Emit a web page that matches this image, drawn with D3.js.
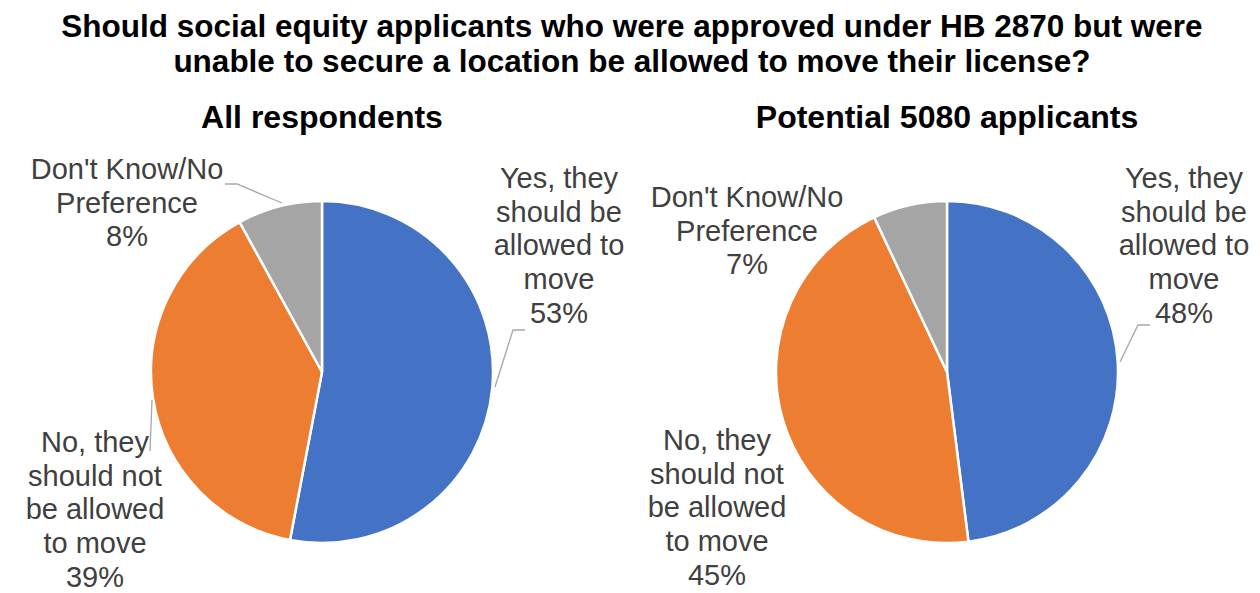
<!DOCTYPE html>
<html>
<head>
<meta charset="utf-8">
<script src="https://cdn.jsdelivr.net/npm/d3@7"></script>
<style>
  body { margin: 0; background: #fff; }
  svg { display: block; }
</style>
</head>
<body>
<svg width="1260" height="593"></svg>
<script>
// Data
const titleLines = [
    "Should social equity applicants who were approved under HB 2870 but were",
    "unable to secure a location be allowed to move their license?"
];
const categories = ["Yes, they should be allowed to move", "No, they should not be allowed to move", "Don't Know/No Preference"];
const pieTitles = ["All respondents", "Potential 5080 applicants"];
const allValues = [53, 39, 8];
const applicantValues = [48, 45, 7];
const labelLines = [
    ["Yes, they", "should be", "allowed to", "move"],
    ["No, they", "should not", "be allowed", "to move"],
    ["Don't Know/No", "Preference"]
];
const colors = ["#4472C4", "#ED7D31", "#A5A5A5"];

const svg = d3.select("svg");
const radius = 171;
const lineH = 33.7;

// Title
svg.append("g").selectAll("text")
    .data(titleLines)
    .join("text")
    .attr("x", 632)
    .attr("y", (d, i) => 37 + i * 35)
    .attr("text-anchor", "middle")
    .attr("font-family", "Liberation Sans, Arial, sans-serif")
    .attr("font-weight", "bold")
    .attr("font-size", "31.5px")
    .attr("fill", "#000")
    .text(d => d);

// layout of each pie: center and label anchors (relative to center)
const layouts = [
    {
        cx: 322, cy: 372,
        labels: [{ dx: 237, dy: -184 }, { dx: -227, dy: 80 }, { dx: -195, dy: -193 }],
        leaders: [
            [[173, 15], [191, -42], [203, -42]],
            [[-170, 28], [-172, 79]],
            [[-40, -169], [-85, -188], [-97, -188]]
        ]
    },
    {
        cx: 947, cy: 372,
        labels: [{ dx: 237, dy: -184 }, { dx: -230, dy: 78 }, { dx: -200, dy: -165 }],
        leaders: [
            [[173, -10], [191, -47], [203, -47]],
            null,
            null
        ]
    }
];

const pie = d3.pie().sort(null).value(d => d);
const arc = d3.arc().innerRadius(0).outerRadius(radius);

[allValues, applicantValues].forEach((values, p) => {
    const lay = layouts[p];
    const g = svg.append("g").attr("transform", `translate(${lay.cx},${lay.cy})`);

    svg.append("text")
        .attr("x", lay.cx)
        .attr("y", 128)
        .attr("text-anchor", "middle")
        .attr("font-family", "Liberation Sans, Arial, sans-serif")
        .attr("font-weight", "bold")
        .attr("font-size", "32px")
        .attr("fill", "#000")
        .text(pieTitles[p]);

    g.selectAll("path.slice")
        .data(pie(values))
        .join("path")
        .attr("class", "slice")
        .attr("d", arc)
        .attr("fill", (d, i) => colors[i])
        .attr("stroke", "#fff")
        .attr("stroke-width", 2.5);

    // leader lines
    lay.leaders.forEach(pts => {
        if (!pts) return;
        g.append("path")
            .attr("d", d3.line()(pts))
            .attr("fill", "none")
            .attr("stroke", "#A6A6A6")
            .attr("stroke-width", 1.3);
    });

    // data labels
    values.forEach((v, i) => {
        const lines = labelLines[i].concat([v + "%"]);
        const pos = lay.labels[i];
        g.append("text")
            .attr("text-anchor", "middle")
            .attr("font-family", "Liberation Sans, Arial, sans-serif")
            .attr("font-size", "29px")
            .attr("fill", "#404040")
            .selectAll("tspan")
            .data(lines)
            .join("tspan")
            .attr("x", pos.dx)
            .attr("y", (d, k) => pos.dy + k * lineH)
            .text(d => d);
    });
});
</script>
</body>
</html>
